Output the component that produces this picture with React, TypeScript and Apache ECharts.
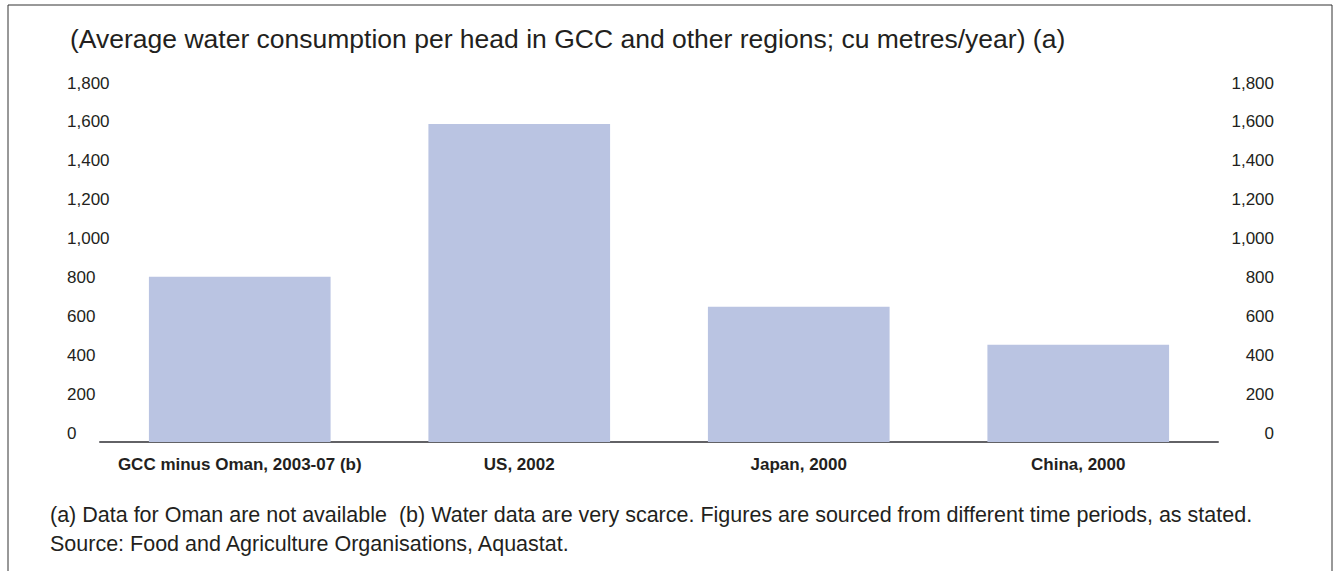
import React, { useEffect, useRef } from "react";
import * as echarts from "echarts";

const categories = [
  "GCC minus Oman, 2003-07 (b)",
  "US, 2002",
  "Japan, 2000",
  "China, 2000",
];
const consumption = [850, 1635, 695, 500];
const yMin = 0;
const yMax = 1800;
const yInterval = 200;

const titleText =
  "(Average water consumption per head in GCC and other regions; cu metres/year) (a)";
const footnote1 =
  "(a) Data for Oman are not available  (b) Water data are very scarce. Figures are sourced from different time periods, as stated.";
const footnote2 = "Source: Food and Agriculture Organisations, Aquastat.";

const FONT = "'Liberation Sans', Arial, Helvetica, sans-serif";
const TEXT = "#231f20";

export default function App() {
  const ref = useRef<HTMLDivElement>(null);
  useEffect(() => {
    if (!ref.current) return;
    const chart = echarts.init(ref.current, null, { renderer: "svg" });
    const fmt = (v: number) => v.toLocaleString("en-US");
    chart.setOption({
      animation: false,
      backgroundColor: "#ffffff",
      textStyle: { fontFamily: FONT },
      grid: { left: 100, top: 92, width: 1118, height: 350, containLabel: false },
      xAxis: {
        type: "category",
        data: categories,
        axisLine: { show: true, lineStyle: { color: "#626266", width: 2 } },
        axisTick: { show: false },
        axisLabel: {
          color: TEXT,
          fontFamily: FONT,
          fontWeight: "bold",
          fontSize: 17,
          margin: 14,
          interval: 0,
        },
      },
      yAxis: [
        {
          type: "value",
          min: yMin,
          max: yMax,
          interval: yInterval,
          position: "left",
          splitLine: { show: false },
          axisLine: { show: false },
          axisTick: { show: false },
          axisLabel: {
            color: TEXT,
            fontFamily: FONT,
            fontSize: 17,
            align: "left",
            margin: 33,
            verticalAlign: "bottom",
            lineHeight: 18,
            formatter: fmt,
          },
        },
        {
          type: "value",
          min: yMin,
          max: yMax,
          interval: yInterval,
          position: "right",
          splitLine: { show: false },
          axisLine: { show: false },
          axisTick: { show: false },
          axisLabel: {
            color: TEXT,
            fontFamily: FONT,
            fontSize: 17,
            align: "right",
            margin: 56,
            verticalAlign: "bottom",
            lineHeight: 18,
            formatter: fmt,
          },
        },
      ],
      series: [
        {
          type: "bar",
          data: consumption,
          barWidth: "65%",
          itemStyle: { color: "#bac4e2" },
          yAxisIndex: 0,
        },
      ],
      graphic: [
        {
          type: "rect",
          shape: { x: 8, y: 5, width: 1324, height: 600 },
          style: { fill: "none", stroke: "#333333", lineWidth: 1 },
          silent: true,
        },
        {
          type: "text",
          x: 70,
          y: 39,
          style: {
            text: titleText,
            fill: TEXT,
            font: `26.5px ${FONT}`,
            textVerticalAlign: "middle",
          },
        },
        {
          type: "text",
          x: 50,
          y: 515,
          style: {
            text: footnote1,
            fill: TEXT,
            font: `21.5px ${FONT}`,
            textVerticalAlign: "middle",
          },
        },
        {
          type: "text",
          x: 50,
          y: 544,
          style: {
            text: footnote2,
            fill: TEXT,
            font: `21.5px ${FONT}`,
            textVerticalAlign: "middle",
          },
        },
      ],
    });
    return () => chart.dispose();
  }, []);
  return (
    <div
      ref={ref}
      style={{ position: "fixed", left: 0, top: 0, width: 1335, height: 571 }}
    />
  );
}
